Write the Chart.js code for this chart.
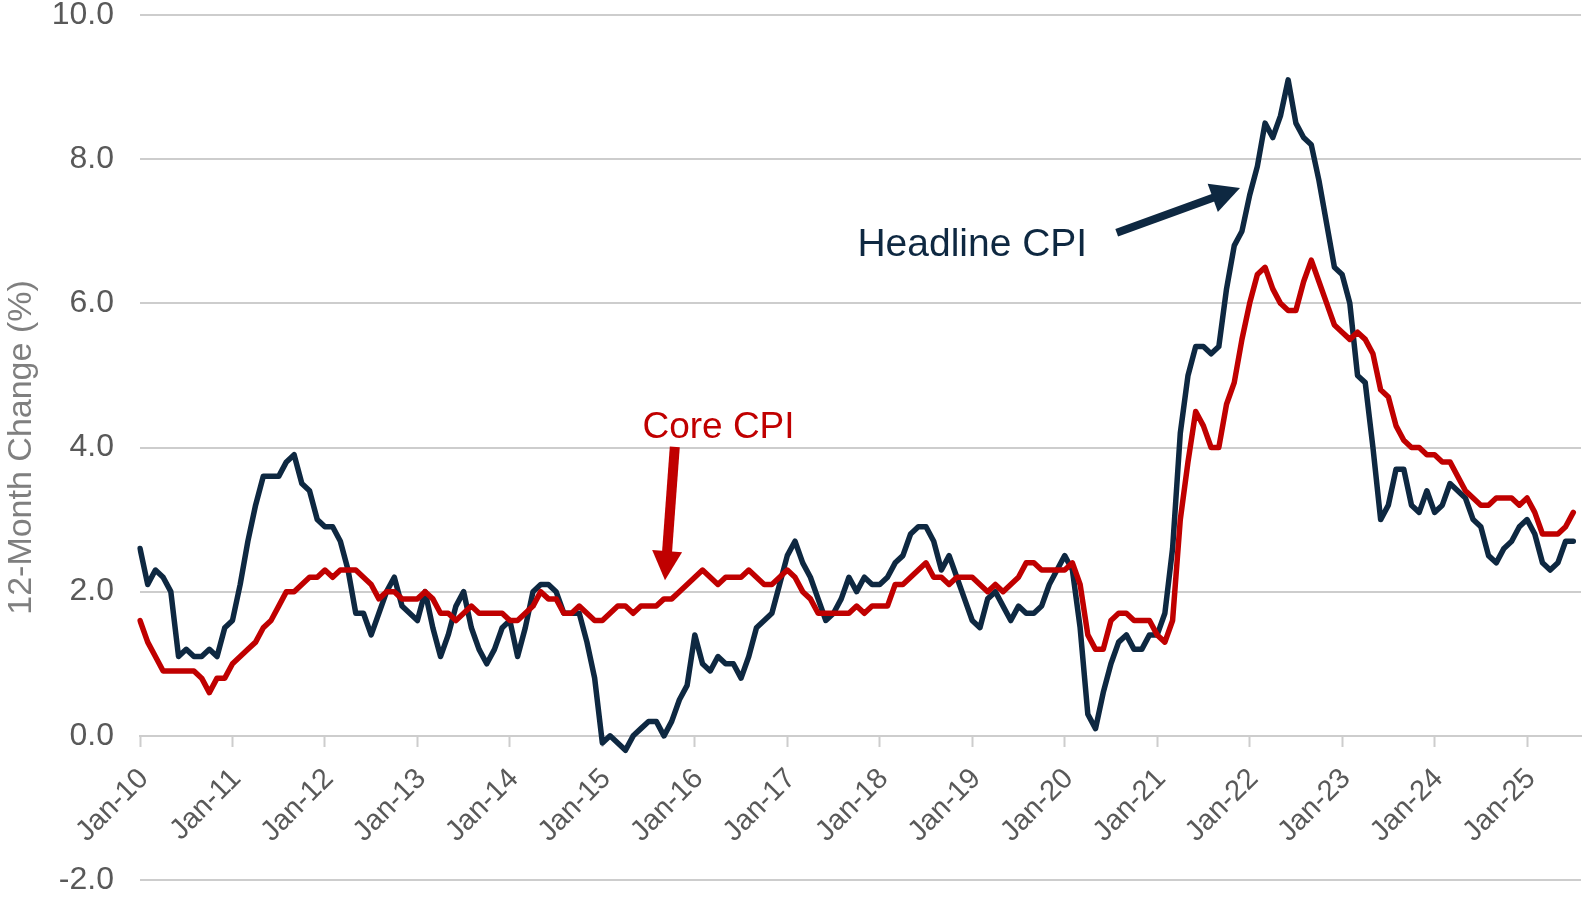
<!DOCTYPE html>
<html>
<head>
<meta charset="utf-8">
<script src="https://cdn.jsdelivr.net/npm/chart.js@4.4.1/dist/chart.umd.min.js"></script>
<style>
  html, body { margin: 0; padding: 0; background: #ffffff; }
  #wrap { width: 1582px; height: 897px; position: relative; }
</style>
</head>
<body>
<div id="wrap"><canvas id="c"></canvas></div>
<script>
// ---------------- DATA ----------------
const MONTHS = ['Jan','Feb','Mar','Apr','May','Jun','Jul','Aug','Sep','Oct','Nov','Dec'];
const YEARS = ['10','11','12','13','14','15','16','17','18','19','20','21','22','23','24','25'];
const LAST_CATEGORY = 'Aug-25'; // axis extends one month past the last observation

// Headline CPI, 12-month % change, Jan-10 .. Jul-25
const headlineCPI = [
  2.6, 2.1, 2.3, 2.2, 2.0, 1.1, 1.2, 1.1, 1.1, 1.2, 1.1, 1.5,
  1.6, 2.1, 2.7, 3.2, 3.6, 3.6, 3.6, 3.8, 3.9, 3.5, 3.4, 3.0,
  2.9, 2.9, 2.7, 2.3, 1.7, 1.7, 1.4, 1.7, 2.0, 2.2, 1.8, 1.7,
  1.6, 2.0, 1.5, 1.1, 1.4, 1.8, 2.0, 1.5, 1.2, 1.0, 1.2, 1.5,
  1.6, 1.1, 1.5, 2.0, 2.1, 2.1, 2.0, 1.7, 1.7, 1.7, 1.3, 0.8,
  -0.1, 0.0, -0.1, -0.2, 0.0, 0.1, 0.2, 0.2, 0.0, 0.2, 0.5, 0.7,
  1.4, 1.0, 0.9, 1.1, 1.0, 1.0, 0.8, 1.1, 1.5, 1.6, 1.7, 2.1,
  2.5, 2.7, 2.4, 2.2, 1.9, 1.6, 1.7, 1.9, 2.2, 2.0, 2.2, 2.1,
  2.1, 2.2, 2.4, 2.5, 2.8, 2.9, 2.9, 2.7, 2.3, 2.5, 2.2, 1.9,
  1.6, 1.5, 1.9, 2.0, 1.8, 1.6, 1.8, 1.7, 1.7, 1.8, 2.1, 2.3,
  2.5, 2.3, 1.5, 0.3, 0.1, 0.6, 1.0, 1.3, 1.4, 1.2, 1.2, 1.4,
  1.4, 1.7, 2.6, 4.2, 5.0, 5.4, 5.4, 5.3, 5.4, 6.2, 6.8, 7.0,
  7.5, 7.9, 8.5, 8.3, 8.6, 9.1, 8.5, 8.3, 8.2, 7.7, 7.1, 6.5,
  6.4, 6.0, 5.0, 4.9, 4.0, 3.0, 3.2, 3.7, 3.7, 3.2, 3.1, 3.4,
  3.1, 3.2, 3.5, 3.4, 3.3, 3.0, 2.9, 2.5, 2.4, 2.6, 2.7, 2.9,
  3.0, 2.8, 2.4, 2.3, 2.4, 2.7, 2.7
];

// Core CPI, 12-month % change, Jan-10 .. Jul-25
const coreCPI = [
  1.6, 1.3, 1.1, 0.9, 0.9, 0.9, 0.9, 0.9, 0.8, 0.6, 0.8, 0.8,
  1.0, 1.1, 1.2, 1.3, 1.5, 1.6, 1.8, 2.0, 2.0, 2.1, 2.2, 2.2,
  2.3, 2.2, 2.3, 2.3, 2.3, 2.2, 2.1, 1.9, 2.0, 2.0, 1.9, 1.9,
  1.9, 2.0, 1.9, 1.7, 1.7, 1.6, 1.7, 1.8, 1.7, 1.7, 1.7, 1.7,
  1.6, 1.6, 1.7, 1.8, 2.0, 1.9, 1.9, 1.7, 1.7, 1.8, 1.7, 1.6,
  1.6, 1.7, 1.8, 1.8, 1.7, 1.8, 1.8, 1.8, 1.9, 1.9, 2.0, 2.1,
  2.2, 2.3, 2.2, 2.1, 2.2, 2.2, 2.2, 2.3, 2.2, 2.1, 2.1, 2.2,
  2.3, 2.2, 2.0, 1.9, 1.7, 1.7, 1.7, 1.7, 1.7, 1.8, 1.7, 1.8,
  1.8, 1.8, 2.1, 2.1, 2.2, 2.3, 2.4, 2.2, 2.2, 2.1, 2.2, 2.2,
  2.2, 2.1, 2.0, 2.1, 2.0, 2.1, 2.2, 2.4, 2.4, 2.3, 2.3, 2.3,
  2.3, 2.4, 2.1, 1.4, 1.2, 1.2, 1.6, 1.7, 1.7, 1.6, 1.6, 1.6,
  1.4, 1.3, 1.6, 3.0, 3.8, 4.5, 4.3, 4.0, 4.0, 4.6, 4.9, 5.5,
  6.0, 6.4, 6.5, 6.2, 6.0, 5.9, 5.9, 6.3, 6.6, 6.3, 6.0, 5.7,
  5.6, 5.5, 5.6, 5.5, 5.3, 4.8, 4.7, 4.3, 4.1, 4.0, 4.0, 3.9,
  3.9, 3.8, 3.8, 3.6, 3.4, 3.3, 3.2, 3.2, 3.3, 3.3, 3.3, 3.2,
  3.3, 3.1, 2.8, 2.8, 2.8, 2.9, 3.1
];

const yTickValues = [-2, 0, 2, 4, 6, 8, 10];
const seriesNames = ['Headline CPI', 'Core CPI'];

// category labels built from the month / year lists
const categories = [];
for (const yy of YEARS) {
  for (const mm of MONTHS) {
    const lab = mm + '-' + yy;
    categories.push(lab);
    if (lab === LAST_CATEGORY) break;
  }
}

// ---------------- STYLE ----------------
const NAVY = '#0E2841';
const RED = '#C00000';
const GRID = '#cdcdcd';
const FONT = '"Liberation Sans", Arial, Helvetica, sans-serif';

// annotation placement (in axis units: category index, percent)
const notes = [
  { text: seriesNames[0], color: NAVY, size: 39, tx: 93.1, ty: 6.66,
    from: [126.75, 6.98], to: [142.75, 7.60], width: 8, head: 29, half: 15 },
  { text: seriesNames[1], color: RED, size: 37, tx: 65.2, ty: 4.13,
    from: [69.4, 4.01], to: [68.13, 2.16], width: 10, head: 29, half: 15 }
];

const notePlugin = {
  id: 'cpiNotes',
  afterDatasetsDraw(chart) {
    const { ctx } = chart;
    const xs = chart.scales.x, ys = chart.scales.y;
    ctx.save();
    for (const n of notes) {
      ctx.font = n.size + 'px ' + FONT;
      ctx.fillStyle = n.color;
      ctx.textAlign = 'left';
      ctx.textBaseline = 'alphabetic';
      ctx.fillText(n.text, xs.getPixelForValue(n.tx), ys.getPixelForValue(n.ty));

      const x1 = xs.getPixelForValue(n.from[0]), y1 = ys.getPixelForValue(n.from[1]);
      const x2 = xs.getPixelForValue(n.to[0]), y2 = ys.getPixelForValue(n.to[1]);
      const a = Math.atan2(y2 - y1, x2 - x1);
      const c = Math.cos(a), s = Math.sin(a);
      const bx = x2 - n.head * c, by = y2 - n.head * s;
      ctx.strokeStyle = n.color;
      ctx.lineWidth = n.width;
      ctx.lineCap = 'butt';
      ctx.beginPath();
      ctx.moveTo(x1, y1);
      ctx.lineTo(bx + c, by + s);
      ctx.stroke();
      ctx.beginPath();
      ctx.moveTo(x2, y2);
      ctx.lineTo(bx + n.half * s, by - n.half * c);
      ctx.lineTo(bx - n.half * s, by + n.half * c);
      ctx.closePath();
      ctx.fill();
    }
    ctx.restore();
  }
};

Chart.defaults.font.family = FONT;

new Chart(document.getElementById('c'), {
  type: 'line',
  data: {
    labels: categories,
    datasets: [
      { label: seriesNames[0], data: headlineCPI, borderColor: NAVY, backgroundColor: NAVY,
        borderWidth: 5.5, pointRadius: 0, tension: 0, borderJoinStyle: 'round', borderCapStyle: 'round', order: 2 },
      { label: seriesNames[1], data: coreCPI, borderColor: RED, backgroundColor: RED,
        borderWidth: 5.5, pointRadius: 0, tension: 0, borderJoinStyle: 'round', borderCapStyle: 'round', order: 1 }
    ]
  },
  options: {
    responsive: true,
    maintainAspectRatio: false,
    animation: false,
    events: [],
    layout: { padding: { top: 15, right: 1, bottom: 17, left: 0 } },
    plugins: { legend: { display: false }, tooltip: { enabled: false }, title: { display: false } },
    scales: {
      x: {
        type: 'category',
        position: { y: 0 },
        offset: false,
        afterFit: (s) => { s.height = 0; s.paddingLeft = 0; s.paddingRight = 0; },
        border: { display: true, color: GRID, width: 2 },
        grid: {
          display: true, drawOnChartArea: false, drawTicks: true, tickLength: 10, tickWidth: 2,
          color: (c) => (c.index % 12 === 0 ? GRID : 'rgba(0,0,0,0)'),
          tickColor: (c) => (c.index % 12 === 0 ? GRID : 'rgba(0,0,0,0)')
        },
        ticks: {
          autoSkip: false, maxRotation: 45, minRotation: 45, padding: 16, labelOffset: 4,
          color: '#595959', font: { size: 29 },
          callback: (v, i) => (i % 12 === 0 ? categories[i] : '')
        }
      },
      y: {
        min: -2, max: 10,
        afterFit: (s) => { s.width = 140; s.paddingTop = 0; s.paddingBottom = 0; },
        afterBuildTicks: (s) => { s.ticks = yTickValues.map(v => ({ value: v })); },
        border: { display: false },
        grid: { color: GRID, lineWidth: 2, drawTicks: false },
        ticks: {
          padding: 26, color: '#595959', font: { size: 32, lineHeight: 1 },
          callback: (v) => Number(v).toFixed(1)
        },
        title: {
          display: true, text: '12-Month Change (%)', color: '#7f7f7f',
          font: { size: 34 }, padding: { top: 1, bottom: 0 }
        }
      }
    }
  },
  plugins: [notePlugin]
});
</script>
</body>
</html>
